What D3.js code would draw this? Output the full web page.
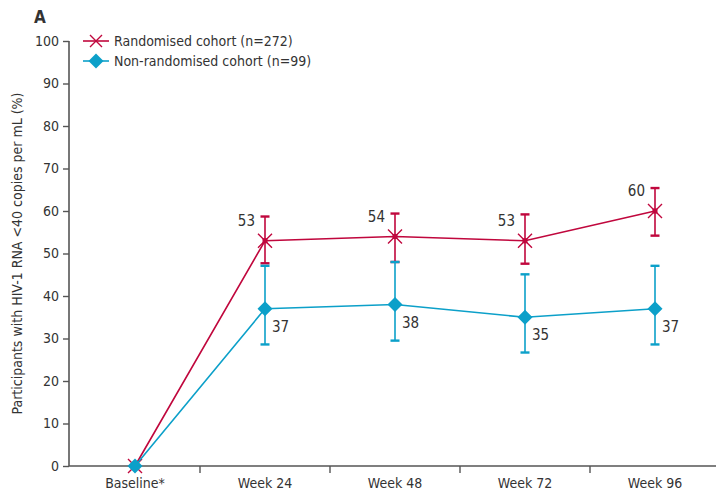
<!DOCTYPE html>
<html>
<head>
<meta charset="utf-8">
<script src="https://cdn.jsdelivr.net/npm/d3@7"></script>
<style>
  body { margin: 0; background: #fff; }
  svg text { font-family: "Liberation Sans Narrow", "DejaVu Sans Condensed", "Open Sans", sans-serif; fill: #333; }
</style>
</head>
<body>
<svg id="chart" width="716" height="492"></svg>
<script>
// categories and values
var categories = ["Baseline*", "Week 24", "Week 48", "Week 72", "Week 96"];
var yTicks = [0, 10, 20, 30, 40, 50, 60, 70, 80, 90, 100];

var randValues = [0, 53, 54, 53, 60];
var randLow = [null, 47.7, 48, 47.6, 54.2];
var randHigh = [null, 58.7, 59.4, 59.2, 65.4];

var nonValues = [0, 37, 38, 35, 37];
var nonLow = [null, 28.6, 29.5, 26.7, 28.6];
var nonHigh = [null, 47.1, 48, 45.1, 47.1];

var seriesNames = ["Randomised cohort (n=272)", "Non-randomised cohort (n=99)"];

var red = "#c0073d", blue = "#0ca0c9";

var svg = d3.select("#chart"),
    mLeft = 69, mRight = 720, mTop = 41, mBottom = 466;

var x = d3.scaleBand().domain(categories).range([mLeft + 1, mRight]);
var y = d3.scaleLinear().domain([0, 100]).range([mBottom, mTop]);

// y axis
var yAxis = svg.append("g").attr("transform", "translate(" + mLeft + ",0)")
  .call(d3.axisLeft(y).tickValues(yTicks).tickSize(6).tickPadding(4));
yAxis.select(".domain").attr("stroke", "#555").attr("stroke-width", 1.6).attr("d", "M0," + mTop + "V" + mBottom);
yAxis.selectAll(".tick line").attr("stroke", "#555").attr("stroke-width", 1.4);
yAxis.selectAll(".tick text").style("font-size", "14px").attr("fill", "#333");

// x axis
var xAxis = svg.append("g").attr("transform", "translate(0," + mBottom + ")")
  .call(d3.axisBottom(x).tickSize(0).tickPadding(12));
xAxis.select(".domain").attr("stroke", "#555").attr("stroke-width", 1.6).attr("d", "M" + mLeft + ",0H716");
xAxis.selectAll(".tick text").style("font-size", "14px").attr("fill", "#333");
// boundary ticks between categories
xAxis.selectAll(".sep").data(categories.slice(1)).enter().append("line")
  .attr("x1", function(d) { return x(d); }).attr("x2", function(d) { return x(d); })
  .attr("y1", 0).attr("y2", 7).attr("stroke", "#555").attr("stroke-width", 1.4);

// axis title
svg.append("text")
  .attr("transform", "translate(22," + ((mTop + mBottom) / 2) + ") rotate(-90)")
  .attr("text-anchor", "middle").style("font-size", "14px")
  .text("Participants with HIV-1 RNA <40 copies per mL (%)");

svg.append("text").attr("x", 34).attr("y", 23).style("font-size", "17px")
  .style("font-weight", "bold").attr("fill", "#222").text("A");

function cx(i) { return x(categories[i]) + x.bandwidth() / 2; }

var line = d3.line().x(function(d, i) { return cx(i); }).y(function(d) { return y(d); });

function drawSeries(values, low, high, color) {
  var g = svg.append("g");
  // error bars
  values.forEach(function(v, i) {
    if (low[i] == null) return;
    g.append("line").attr("x1", cx(i)).attr("x2", cx(i))
      .attr("y1", y(low[i])).attr("y2", y(high[i]))
      .attr("stroke", color).attr("stroke-width", 1.6);
    [low[i], high[i]].forEach(function(e) {
      g.append("line").attr("x1", cx(i) - 4.5).attr("x2", cx(i) + 4.5)
        .attr("y1", y(e)).attr("y2", y(e))
        .attr("stroke", color).attr("stroke-width", 2.4);
    });
  });
  g.append("path").datum(values).attr("d", line)
    .attr("fill", "none").attr("stroke", color).attr("stroke-width", 1.6);
  return g;
}

var gRand = drawSeries(randValues, randLow, randHigh, red);
var gNon = drawSeries(nonValues, nonLow, nonHigh, blue);

function crossMark(g, px, py, color) {
  var s = 7;
  g.append("path").attr("d", "M" + (px - s) + "," + (py - s) + "L" + (px + s) + "," + (py + s) +
      "M" + (px - s) + "," + (py + s) + "L" + (px + s) + "," + (py - s))
    .attr("stroke", color).attr("stroke-width", 1.4).attr("fill", "none");
  g.append("rect").attr("x", px - 2.5).attr("y", py - 2.5).attr("width", 5).attr("height", 5).attr("fill", color);
}

function diamondMark(g, px, py, color) {
  var s = 7.5;
  g.append("path").attr("d", "M" + px + "," + (py - s) + "L" + (px + s) + "," + py + "L" + px + "," + (py + s) + "L" + (px - s) + "," + py + "Z")
    .attr("fill", color);
}

randValues.forEach(function(v, i) { crossMark(gRand, cx(i), y(v), red); });
nonValues.forEach(function(v, i) { diamondMark(gNon, cx(i), y(v), blue); });

// value labels
randValues.forEach(function(v, i) {
  if (i === 0) return;
  svg.append("text").attr("x", cx(i) - 10).attr("y", y(v) - 15)
    .attr("text-anchor", "end").style("font-size", "15px").text(v);
});
nonValues.forEach(function(v, i) {
  if (i === 0) return;
  svg.append("text").attr("x", cx(i) + 7).attr("y", y(v) + 23)
    .attr("text-anchor", "start").style("font-size", "15px").text(v);
});

// legend
var legend = svg.append("g");
[red, blue].forEach(function(c, i) {
  var ly = 41 + i * 20;
  legend.append("line").attr("x1", 83).attr("x2", 109).attr("y1", ly).attr("y2", ly)
    .attr("stroke", c).attr("stroke-width", 1.6);
  if (i === 0) {
    var s = 6;
    legend.append("path").attr("d", "M" + (96 - s) + "," + (ly - s) + "L" + (96 + s) + "," + (ly + s) +
      "M" + (96 - s) + "," + (ly + s) + "L" + (96 + s) + "," + (ly - s))
      .attr("stroke", c).attr("stroke-width", 1.4);
  } else {
    diamondMark(legend, 96, ly, c);
  }
  legend.append("text").attr("x", 114).attr("y", ly + 5).style("font-size", "14px").text(seriesNames[i]);
});
</script>
</body>
</html>
